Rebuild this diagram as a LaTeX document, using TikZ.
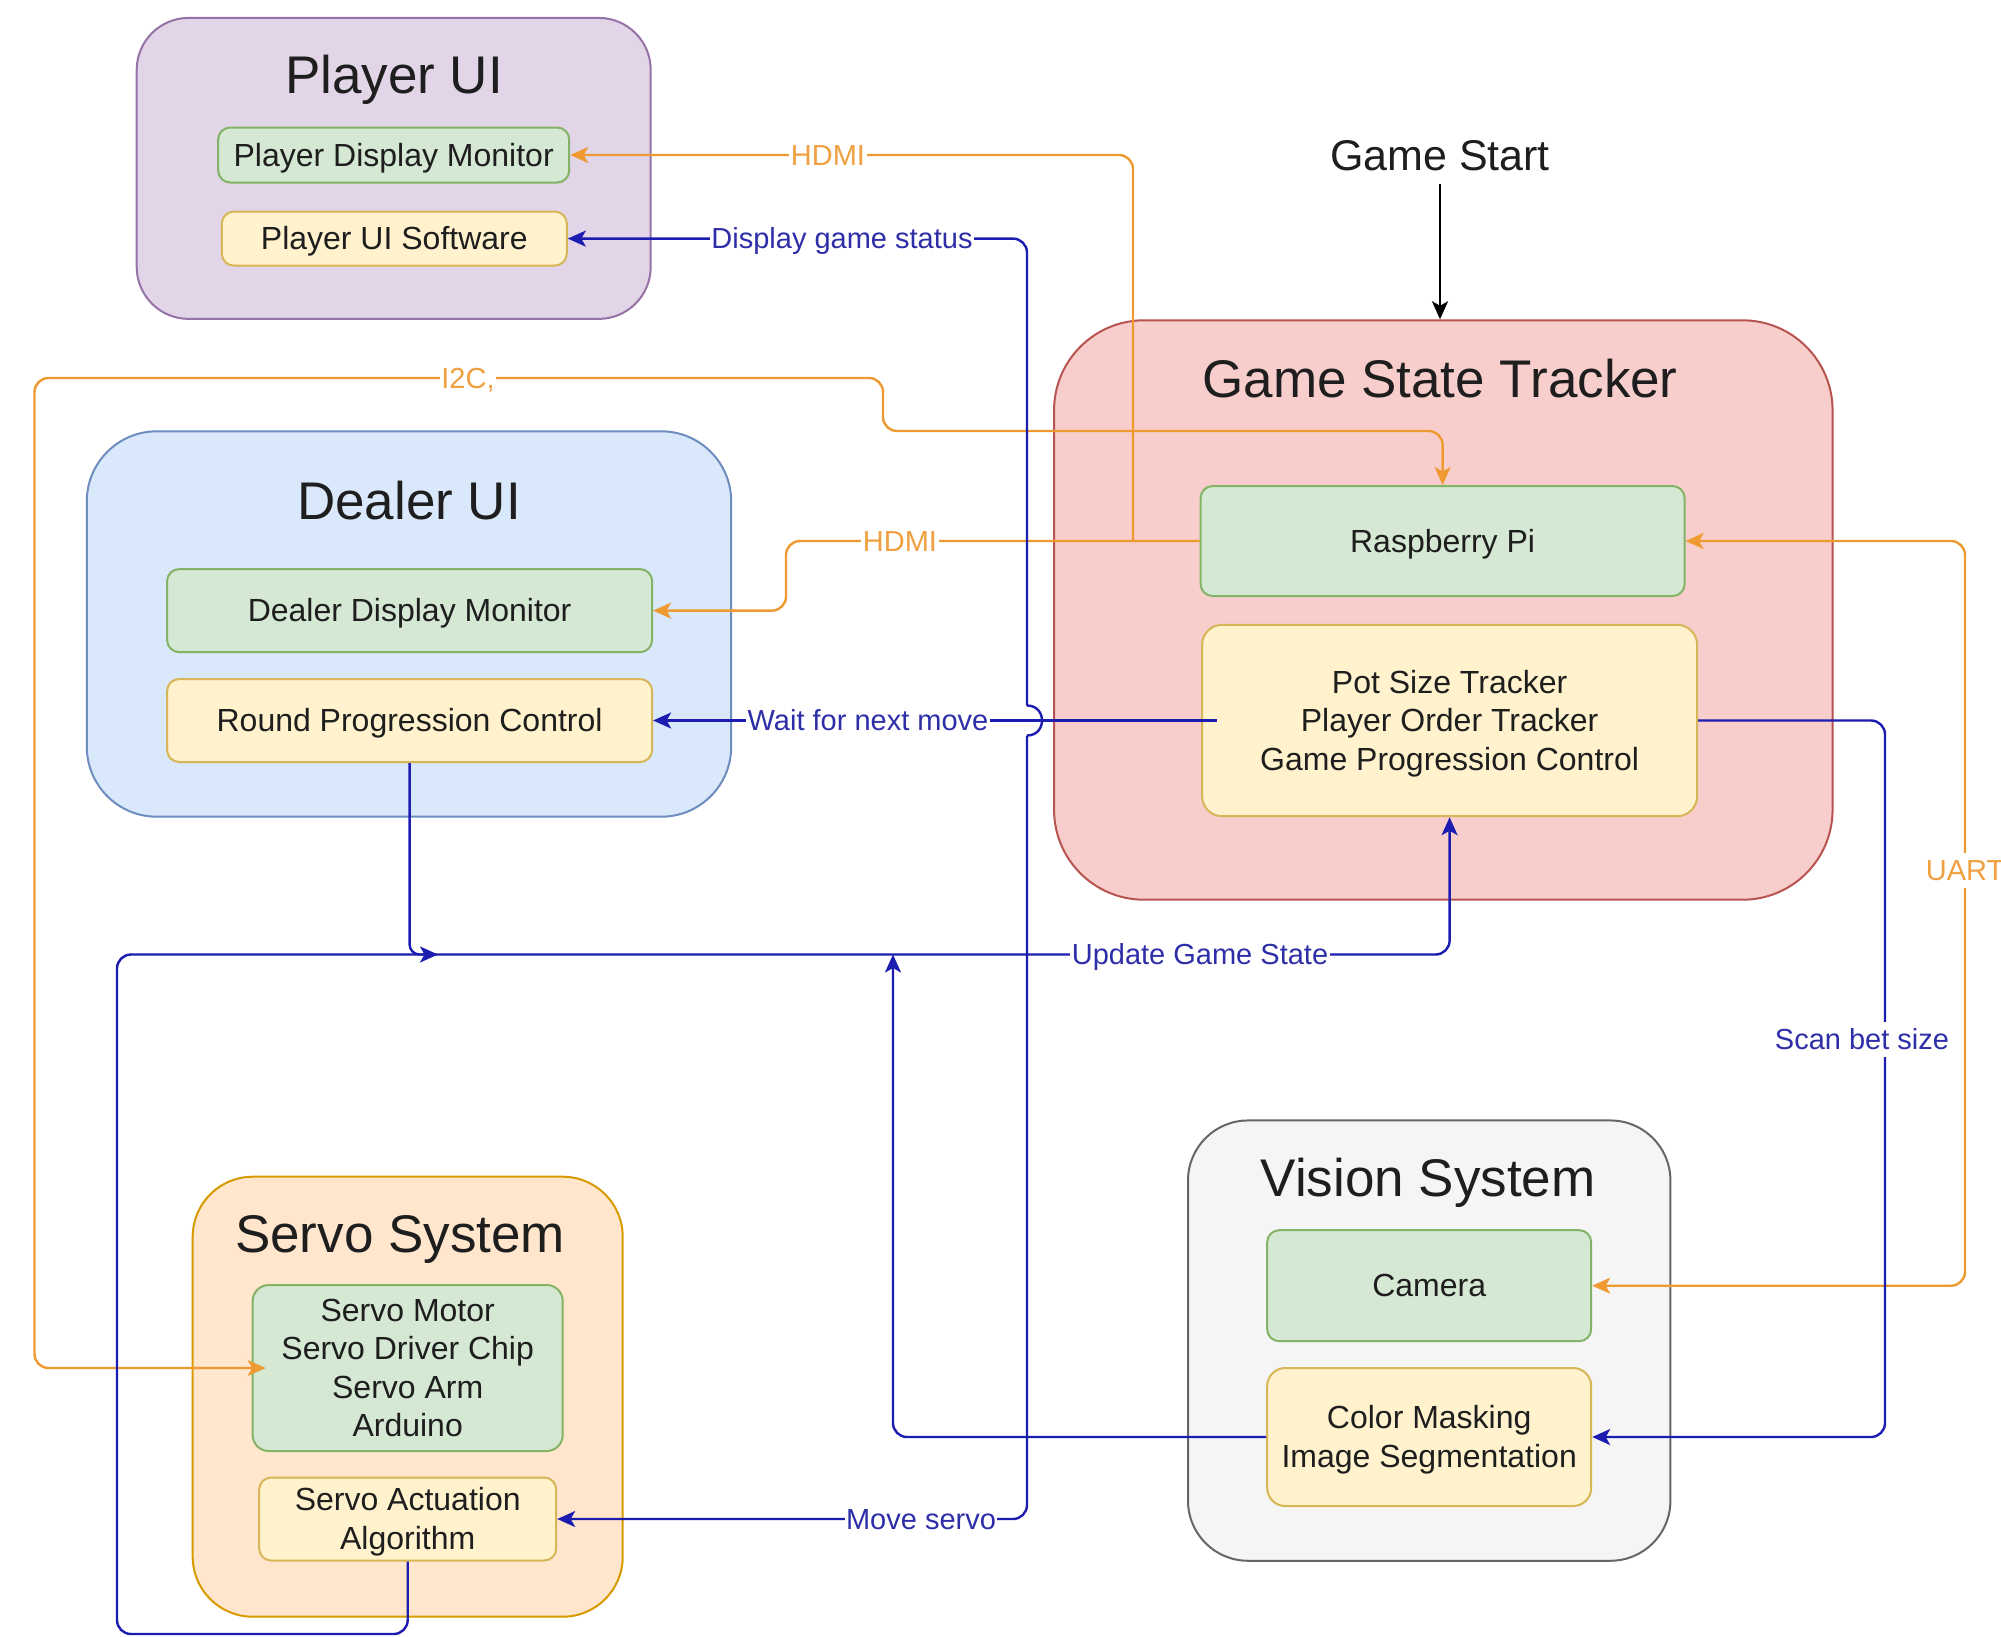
\documentclass[tikz,border=0pt]{standalone}
\usepackage{fontspec}
\setmainfont{Liberation Sans}
\usetikzlibrary{arrows.meta}
\definecolor{pufill}{HTML}{E1D5E7}
\definecolor{pudraw}{HTML}{9673A6}
\definecolor{dufill}{HTML}{DAE8FC}
\definecolor{dudraw}{HTML}{6C8EBF}
\definecolor{gsfill}{HTML}{F8CECC}
\definecolor{gsdraw}{HTML}{B85450}
\definecolor{ssfill}{HTML}{FFE6CC}
\definecolor{ssdraw}{HTML}{D79B00}
\definecolor{vsfill}{HTML}{F5F5F5}
\definecolor{vsdraw}{HTML}{666666}
\definecolor{grfill}{HTML}{D5E8D4}
\definecolor{grdraw}{HTML}{82B366}
\definecolor{yefill}{HTML}{FFF2CC}
\definecolor{yedraw}{HTML}{D6B656}
\definecolor{orline}{HTML}{EE9A30}
\definecolor{ortext}{HTML}{F0A040}
\definecolor{blline}{HTML}{1C1CB0}
\definecolor{bltext}{HTML}{2E2EA8}
\definecolor{txt}{HTML}{1E1E1E}
\newcommand\bodyfont{\fontsize{32pt}{38.4pt}\selectfont}
\newcommand\titlefont{\fontsize{53pt}{63.6pt}\selectfont}
\newcommand\lblfont{\fontsize{29pt}{34.8pt}\selectfont}
\newcommand\startfont{\fontsize{43pt}{51.6pt}\selectfont}
\newcommand\bstrut{\rule[-0.2535em]{0pt}{1.2em}}
\begin{document}
\begin{tikzpicture}[x=1pt,y=-1pt,
  cont/.style={draw, line width=2pt, inner sep=0pt},
  gbox/.style={draw=grdraw, fill=grfill, line width=2pt, rounded corners=12pt, inner sep=0pt, font=\bodyfont, text=txt, align=center},
  ybox/.style={draw=yedraw, fill=yefill, line width=2pt, rounded corners=12pt, inner sep=0pt, font=\bodyfont, text=txt, align=center},
  ttl/.style={anchor=base, font=\titlefont, text=txt, inner sep=0pt},
  oline/.style={draw=orline, line width=2.4pt, rounded corners=14pt},
  bline/.style={draw=blline, line width=2.4pt, rounded corners=14pt},
  olbl/.style={fill=white, inner sep=1.5pt, font=\lblfont, text=ortext, text height=26pt, text depth=6pt},
  blbl/.style={fill=white, inner sep=1.5pt, font=\lblfont, text=bltext, text height=26pt, text depth=6pt},
  myarrow/.tip={Stealth[length=18pt,width=16pt,inset=4.5pt]}
]
\useasboundingbox (0,0) rectangle (2001,1636);
\fill[white] (0,0) rectangle (2001,1636);

% Player UI
\node[cont, fill=pufill, draw=pudraw, rounded corners=52pt, minimum width=514pt, minimum height=301pt] (pui) at (393.7,168.4) {};
\node[ttl] (puit) at (394,93) {Player UI};
\node[gbox, minimum width=351pt, minimum height=55pt] (pdm) at (393.7,155) {Player Display Monitor\bstrut};
\node[ybox, minimum width=345pt, minimum height=54pt] (pus) at (394.3,238.6) {Player UI Software\bstrut};

% Game State Tracker
\node[cont, fill=gsfill, draw=gsdraw, rounded corners=90pt, minimum width=778.5pt, minimum height=579.4pt] (gst) at (1443.3,610) {};
\node[ttl] (gstt) at (1440,397) {Game State Tracker};
\node[gbox, minimum width=484pt, minimum height=110pt] (rpi) at (1442.6,541) {Raspberry Pi\bstrut};
\node[ybox, rounded corners=20pt, minimum width=495pt, minimum height=191.4pt] (pot) at (1449.6,720.5) {Pot Size Tracker\bstrut\\Player Order Tracker\bstrut\\Game Progression Control\bstrut};

% Dealer UI
\node[cont, fill=dufill, draw=dudraw, rounded corners=70pt, minimum width=644.4pt, minimum height=385.4pt] (dui) at (409,624) {};
\node[ttl] (duit) at (409,519) {Dealer UI};
\node[gbox, minimum width=485pt, minimum height=83pt] (ddm) at (409.6,610.6) {Dealer Display Monitor\bstrut};
\node[ybox, minimum width=485pt, minimum height=83pt] (rpc) at (409.6,720.5) {Round Progression Control\bstrut};

% Servo System
\node[cont, fill=ssfill, draw=ssdraw, rounded corners=60pt, minimum width=430pt, minimum height=440pt] (ss) at (407.7,1396.7) {};
\node[ttl] (sst) at (400,1252) {Servo System};
\node[gbox, rounded corners=16pt, minimum width=310pt, minimum height=166pt] (sm) at (407.7,1368) {Servo Motor\bstrut\\Servo Driver Chip\bstrut\\Servo Arm\bstrut\\Arduino\bstrut};
\node[ybox, minimum width=297pt, minimum height=83pt] (saa) at (407.7,1519) {Servo Actuation\bstrut\\Algorithm\bstrut};

% Vision System
\node[cont, fill=vsfill, draw=vsdraw, rounded corners=60pt, minimum width=482.4pt, minimum height=440.3pt] (vs) at (1429.2,1340.6) {};
\node[ttl] (vst) at (1428,1196) {Vision System};
\node[gbox, minimum width=324pt, minimum height=111pt] (cam) at (1429.2,1285.7) {Camera\bstrut};
\node[ybox, rounded corners=18pt, minimum width=324pt, minimum height=138pt] (cm) at (1429.2,1437) {Color Masking\bstrut\\Image Segmentation\bstrut};

% Game Start
\node[anchor=base, font=\startfont, text=txt, inner sep=5pt, text depth=9pt] (gs) at (1440,170) {Game Start};
\draw[line width=2.4pt, -myarrow] (gs.south) -- (gs.south |- gst.north);

% helper coordinates
\coordinate (hdmij) at (1133,541);
\coordinate (hopT) at (1027,705.5);
\coordinate (hopB) at (1027,735.5);
\coordinate (ugsend) at (438,954.5);
\coordinate (cmup) at (893,954.5);

% orange connectors
\draw[oline, -myarrow] (rpi.west) -- (786,541) |- (ddm.east);
\draw[oline, -myarrow] (hdmij) |- (pdm.east);
\draw[oline, myarrow-myarrow] (rpi.north) |- (883,431) |- (34.5,378) |- ([xshift=14pt]sm.west);
\draw[oline, myarrow-myarrow] (rpi.east) -- (1965,541) |- (cam.east);

% blue connectors
\draw[bline, -myarrow] ([xshift=16pt]pot.west) -- (rpc.east);
\draw[bline] (hopT) .. controls (1047,705.5) and (1047,735.5) .. (hopB);
\draw[bline, -myarrow] (hopT) |- (pus.east);
\draw[bline, -myarrow] (hopB) |- (saa.east);
\draw[bline, -myarrow] (saa.south) |- (117,1634) -- (117,954.5) -| (pot.south);
\draw[bline, rounded corners=10pt, -myarrow] (rpc.south) |- (ugsend);
\draw[bline, -myarrow] (cm.west) -| (cmup);
\draw[bline, -myarrow] (pot.east) -- (1885,720.5) |- (cm.east);

% labels
\node[olbl] (lhdmi1) at (828,155) {HDMI};
\node[olbl] (lhdmi2) at (900,541) {HDMI};
\node[olbl] (li2c) at (468,378) {I2C,};
\node[olbl] (luart) at (1965,870) {UART};
\node[blbl] (ldgs) at (842,238.6) {Display game status};
\node[blbl] (lwait) at (868,720.5) {Wait for next move};
\node[blbl] (lmove) at (921,1519) {Move servo};
\node[blbl] (lupd) at (1200,954.5) {Update Game State};
\node[blbl] (lscan) at (1862,1039) {Scan bet size};
\end{tikzpicture}
\end{document}
